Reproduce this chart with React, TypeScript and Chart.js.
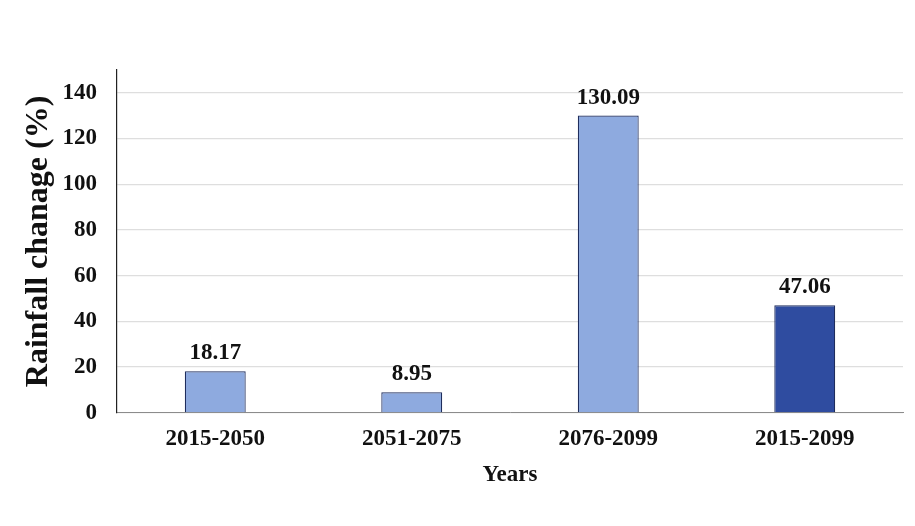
import React, { useEffect, useRef } from "react";
import { Chart, registerables } from "chart.js";

Chart.register(...registerables);

const categories = ["2015-2050", "2051-2075", "2076-2099", "2015-2099"];
const rainfallChange = [18.17, 8.95, 130.09, 47.06];
const barColors = ["#8eaadf", "#8eaadf", "#8eaadf", "#2f4ca0"];
const yTickValues = [0, 20, 40, 60, 80, 100, 120, 140];

const FONT = "'Liberation Serif', 'Times New Roman', serif";

// Writes each bar's value just above its top edge.
const valueLabels = {
  id: "valueLabels",
  afterDatasetsDraw(chart: any) {
    const ctx = chart.ctx;
    const meta = chart.getDatasetMeta(0);
    ctx.save();
    ctx.font = `bold 23px ${FONT}`;
    ctx.fillStyle = "#111";
    ctx.textAlign = "center";
    ctx.textBaseline = "alphabetic";
    meta.data.forEach((bar: any, i: number) => {
      ctx.fillText(rainfallChange[i].toFixed(2), bar.x, bar.y - 12);
    });
    ctx.restore();
  },
};

export default function App() {
  const canvasRef = useRef<HTMLCanvasElement | null>(null);

  useEffect(() => {
    if (!canvasRef.current) return;
    const chart = new Chart(canvasRef.current, {
      type: "bar",
      data: {
        labels: categories,
        datasets: [
          {
            data: rainfallChange,
            backgroundColor: barColors,
            borderColor: "#1f2d5c",
            borderWidth: 1.2,
            barPercentage: 0.31,
            categoryPercentage: 1,
          },
        ],
      },
      options: {
        animation: false,
        responsive: false,
        layout: { padding: { top: 70, right: 12, bottom: 37, left: 20 } },
        plugins: { legend: { display: false }, tooltip: { enabled: false } },
        scales: {
          x: {
            grid: { display: false },
            border: { color: "#8c8c8c", width: 1 },
            ticks: {
              color: "#111",
              font: { family: FONT, size: 23, weight: "bold" },
              padding: 4,
            },
            title: {
              display: true,
              text: "Years",
              color: "#111",
              font: { family: FONT, size: 23, weight: "bold" },
              padding: { top: 5, bottom: 0 },
            },
          },
          y: {
            min: 0,
            max: 150,
            afterBuildTicks: (axis: any) => {
              axis.ticks = yTickValues.map((v) => ({ value: v }));
            },
            grid: { color: "#dedede", lineWidth: 1.2, drawTicks: false },
            border: { color: "#222", width: 1.2 },
            ticks: {
              color: "#111",
              font: { family: FONT, size: 23, weight: "bold" },
              padding: 20,
            },
            title: {
              display: true,
              text: "Rainfall chanage (%)",
              color: "#111",
              font: { family: FONT, size: 32, weight: "bold" },
              padding: { top: 0, bottom: 0 },
            },
            afterFit: (axis: any) => {
              axis.width = 97;
            },
          },
        },
      },
      plugins: [valueLabels],
    });
    return () => chart.destroy();
  }, []);

  return (
    <div
      style={{
        position: "absolute",
        left: 0,
        top: 0,
        width: 915,
        height: 526,
        background: "#fff",
      }}
    >
      <canvas ref={canvasRef} width={915} height={526} />
    </div>
  );
}
